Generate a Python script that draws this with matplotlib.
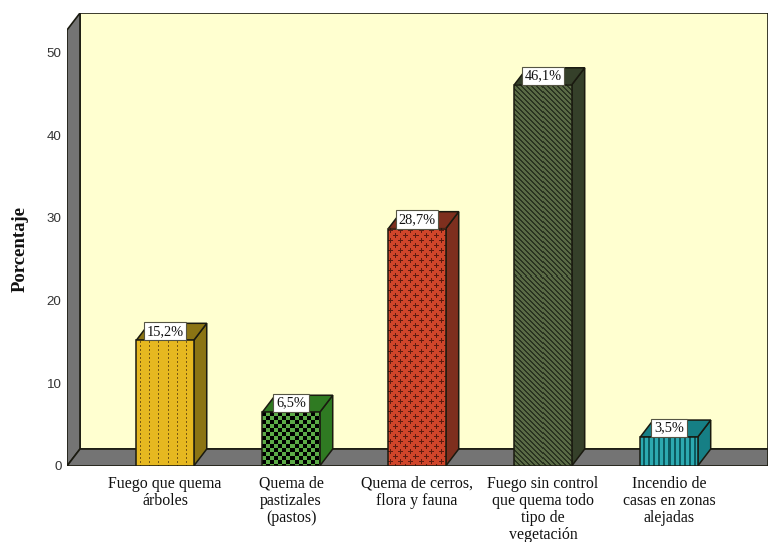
import numpy as np
import matplotlib

matplotlib.use("Agg")

import matplotlib.pyplot as plt
from matplotlib.patches import Polygon

categories = [
    "Fuego que quema\nárboles",
    "Quema de\npastizales\n(pastos)",
    "Quema de cerros,\nflora y fauna",
    "Fuego sin control\nque quema todo\ntipo de\nvegetación",
    "Incendio de\ncasas en zonas\nalejadas",
]
values = [15.2, 6.5, 28.7, 46.1, 3.5]
value_labels = ["15,2%", "6,5%", "28,7%", "46,1%", "3,5%"]
y_ticks = [0, 10, 20, 30, 40, 50]

front_colors = ["#E6B820", "#5CAB47", "#D0452A", "#5A6B45", "#2CA9B0"]
dark_colors = ["#7A5A10", "#000000", "#5E1C10", "#2A3420", "#0C5A60"]
side_colors = ["#8B7414", "#2F7A22", "#7E2F1E", "#35402A", "#167F85"]

WALL = "#747474"
BACK = "#FFFFD0"
EDGE = "#1A1A10"
SERIF = "Liberation Serif"


def dots_tile():
    t = np.zeros((4, 9), dtype=int)
    t[1:3, 4] = 1
    return t


def checker_tile():
    t = np.zeros((8, 8), dtype=int)
    t[:4, :4] = 1
    t[4:, 4:] = 1
    return t


def cross_tile():
    t = np.zeros((10, 10), dtype=int)
    for r, c in [(2, 2), (7, 7)]:
        t[r, c - 2:c + 3] = 1
        t[r - 2:r + 3, c] = 1
    return t


def diag_tile():
    t = np.zeros((5, 5), dtype=int)
    for i in range(5):
        t[i, i] = 1
        t[i, (i + 1) % 5] = 1
    return t


def stripe_tile():
    t = np.zeros((1, 5), dtype=int)
    t[0, 3:] = 1
    return t


tiles = [dots_tile(), checker_tile(), cross_tile(), diag_tile(), stripe_tile()]

W, H = 768, 542
fig = plt.figure(figsize=(W / 100, H / 100), dpi=100, facecolor="white")
ax = fig.add_axes([67 / W, (H - 466) / H, (W - 67) / W, 453 / H])
ax.patch.set_visible(False)
for s in ax.spines.values():
    s.set_visible(False)

xlim = (-0.778, 4.786)
ylim = (0, 54.78)
ax.set_xlim(*xlim)
ax.set_ylim(*ylim)

# depth of the fake 3D, in data units
dx = 13 / 126
dy = 17 / 8.27
width = 0.456

x0, x1 = xlim
y1 = ylim[1]
ax.add_patch(Polygon([(x0 + dx, dy), (x1, dy), (x1, y1), (x0 + dx, y1)],
                     facecolor=BACK, edgecolor=EDGE, lw=1.2, zorder=1))
ax.add_patch(Polygon([(x0, 0), (x0 + dx, dy), (x0 + dx, y1), (x0, y1 - dy)],
                     facecolor=WALL, edgecolor=EDGE, lw=1.2, zorder=1))
ax.add_patch(Polygon([(x0, 0), (x1, 0), (x1, dy), (x0 + dx, dy)],
                     facecolor=WALL, edgecolor=EDGE, lw=1.2, zorder=1))

for i, v in enumerate(values):
    left, right = i - width / 2, i + width / 2
    ax.add_patch(Polygon([(right, 0), (right + dx, dy), (right + dx, v + dy), (right, v)],
                         facecolor=side_colors[i], edgecolor=EDGE, lw=1.1, zorder=2))
    ax.add_patch(Polygon([(left, v), (right, v), (right + dx, v + dy), (left + dx, v + dy)],
                         facecolor=side_colors[i], edgecolor=EDGE, lw=1.1, zorder=2))

    # pattern of the front face, one image pixel per screen pixel
    (px0, py0), (px1, py1) = ax.transData.transform([(left, 0), (right, v)])
    nx, ny = int(round(px1 - px0)), int(round(py1 - py0))
    tile = tiles[i]
    reps = (ny // tile.shape[0] + 1, nx // tile.shape[1] + 1)
    mask = np.tile(tile, reps)[:ny, :nx]
    rgb = np.array([matplotlib.colors.to_rgb(front_colors[i]),
                    matplotlib.colors.to_rgb(dark_colors[i])])
    ax.imshow(rgb[mask], extent=(left, right, 0, v), aspect="auto",
              interpolation="nearest", zorder=3)

ax.bar(range(len(values)), values, width=width, facecolor="none",
       edgecolor=EDGE, linewidth=1.1, zorder=4)

for i, v in enumerate(values):
    ax.text(i, v + 1.1, value_labels[i], ha="center", va="center",
            family=SERIF, fontsize=10.4, color="#111111", zorder=5,
            bbox=dict(boxstyle="square,pad=0.18", facecolor="white",
                      edgecolor="#555544", linewidth=0.8))

ax.set_xticks(range(len(categories)))
ax.set_xticklabels(categories, family=SERIF, fontsize=11.4, color="#111111",
                   linespacing=1.1)
ax.set_yticks(y_ticks)
ax.set_yticklabels([str(t) for t in y_ticks], family="Liberation Sans",
                   fontsize=9.6, color="#333333")
ax.tick_params(axis="x", length=0, pad=7)
ax.tick_params(axis="y", length=0, pad=4)

fig.text(20 / W, 1 - 249 / H, "Porcentaje", rotation=90, ha="center", va="center",
         family=SERIF, fontsize=13.5, fontweight="bold", color="#111111")

fig.savefig("out.png", dpi=100)
plt.close(fig)
